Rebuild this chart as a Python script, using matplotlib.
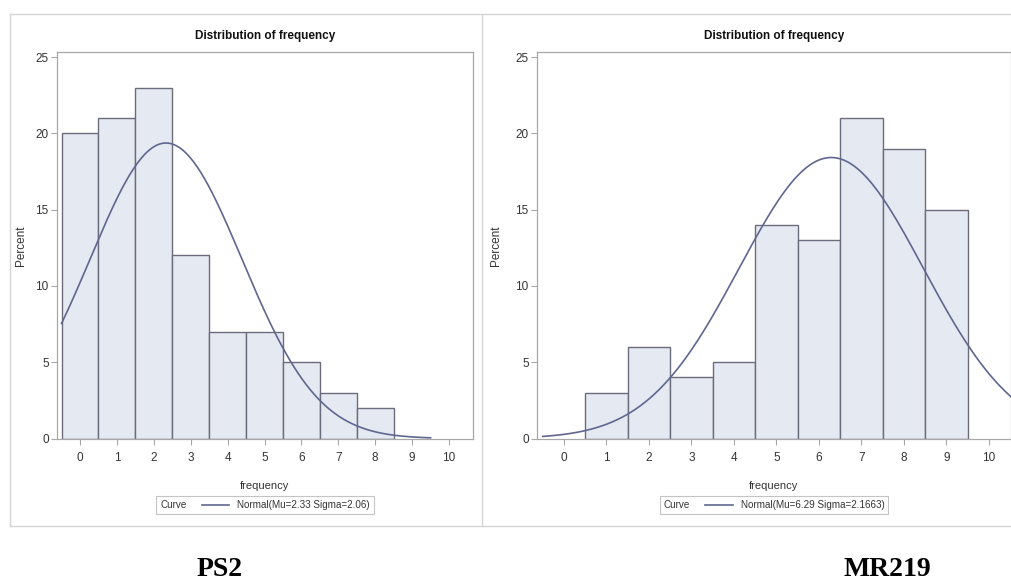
import matplotlib
matplotlib.use("Agg")
import matplotlib.pyplot as plt
import numpy as np
from matplotlib.lines import Line2D
from matplotlib.offsetbox import HPacker

# data
ps2_bins = [0, 1, 2, 3, 4, 5, 6, 7, 8]
ps2_percent = [20, 21, 23, 12, 7, 7, 5, 3, 2]
ps2_mu, ps2_sigma = 2.33, 2.06
ps2_curve_range = (-0.5, 9.5)

mr219_bins = [1, 2, 3, 4, 5, 6, 7, 8, 9]
mr219_percent = [3, 6, 4, 5, 14, 13, 21, 19, 15]
mr219_mu, mr219_sigma = 6.29, 2.1663
mr219_curve_range = (-0.5, 10.55)

x_ticks = list(range(0, 11))
y_ticks = [0, 5, 10, 15, 20, 25]

NARROW = ["Liberation Sans Narrow", "Liberation Sans", "DejaVu Sans"]
BAR_FILL = "#e5e9f2"
BAR_EDGE = "#6b6d7c"
CURVE = "#5f6790"
FRAME = "#a8a8a8"
PANEL = "#d4d4d4"
TEXT = "#333333"


def normal_percent(x, mu, sigma):
    # SAS-style normal fit scaled to percent per unit bin
    return 100.0 / (sigma * np.sqrt(2 * np.pi)) * np.exp(-0.5 * ((x - mu) / sigma) ** 2)


def draw_panel(fig, rect, xlim, bins, percent, mu, sigma, curve_range, ylabel_x):
    ax = fig.add_axes(rect)
    ax.bar(bins, percent, width=1.0, color=BAR_FILL, edgecolor=BAR_EDGE, linewidth=1.0, zorder=2)
    xs = np.linspace(curve_range[0], curve_range[1], 300)
    line, = ax.plot(xs, normal_percent(xs, mu, sigma), color=CURVE, linewidth=1.2, zorder=3)

    ax.set_xlim(*xlim)
    ax.set_ylim(0, 25.33)
    ax.set_xticks(x_ticks)
    ax.set_yticks(y_ticks)
    ax.tick_params(length=4, width=0.8, color=FRAME, labelcolor=TEXT, labelsize=8.5)
    ax.tick_params(axis="x", pad=6)
    ax.tick_params(axis="y", pad=2)
    for label in ax.get_xticklabels() + ax.get_yticklabels():
        label.set_family(NARROW)
    for spine in ax.spines.values():
        spine.set_color(FRAME)
        spine.set_linewidth(0.9)

    ax.set_title("Distribution of frequency", fontsize=8.5, fontweight="bold",
                 family=NARROW, color="#111111", pad=9)
    ax.set_xlabel("frequency", fontsize=8, family=NARROW, color=TEXT)
    ax.xaxis.set_label_coords(0.5, -0.11)
    ax.set_ylabel("Percent", fontsize=8.5, family=["Liberation Sans", "DejaVu Sans"], color=TEXT)
    ax.yaxis.set_label_coords(ylabel_x, 0.5)

    label = f"Normal(Mu={mu:g} Sigma={sigma:g})"
    leg = ax.legend([line], [label], title="Curve", loc="center",
                    bbox_to_anchor=(0.5, -0.172), frameon=True, fancybox=False,
                    edgecolor="#c4c4c4", framealpha=1, handlelength=2.8,
                    handletextpad=0.8, borderpad=0.4, borderaxespad=0,
                    prop={"family": NARROW, "size": 7.1})
    leg.get_frame().set_linewidth(0.8)
    leg.get_title().set_family(NARROW)
    leg.get_title().set_fontsize(7.1)
    for text in leg.get_texts():
        text.set_color(TEXT)
    leg.get_title().set_color(TEXT)
    # put the "Curve" title to the left of the entry, as SAS does
    box = leg._legend_box
    leg._legend_box = HPacker(pad=box.pad, sep=11, align="center", children=box.get_children())
    leg._legend_box.set_figure(fig)
    leg._legend_box.axes = ax
    leg._legend_box.set_offset(leg._findoffset)
    return ax


fig = plt.figure(figsize=(10.11, 5.86), dpi=100)
W, H = 1011.0, 586.0

draw_panel(fig, [57 / W, 1 - 438.5 / H, 416 / W, 386.5 / H], (-0.623, 10.65),
           ps2_bins, ps2_percent, ps2_mu, ps2_sigma, ps2_curve_range, -0.072)
draw_panel(fig, [537 / W, 1 - 438.5 / H, 474 / W, 386.5 / H], (-0.635, 10.52),
           mr219_bins, mr219_percent, mr219_mu, mr219_sigma, mr219_curve_range, -0.074)

# panel outlines around the two SAS graphs
top, bottom, left = 1 - 14 / H, 1 - 526 / H, 10 / W
for xs, ys in [((left, 1), (top, top)), ((left, 1), (bottom, bottom)),
               ((left, left), (bottom, top)), ((482 / W, 482 / W), (bottom, top))]:
    fig.add_artist(Line2D(xs, ys, color=PANEL, linewidth=1.0, transform=fig.transFigure))

fig.text(220 / W, 1 - 570 / H, "PS2", family=["Liberation Serif", "DejaVu Serif"],
         fontweight="bold", fontsize=20, ha="center", va="center")
fig.text(887 / W, 1 - 570 / H, "MR219", family=["Liberation Serif", "DejaVu Serif"],
         fontweight="bold", fontsize=20, ha="center", va="center")

fig.savefig("out.png", dpi=100)
